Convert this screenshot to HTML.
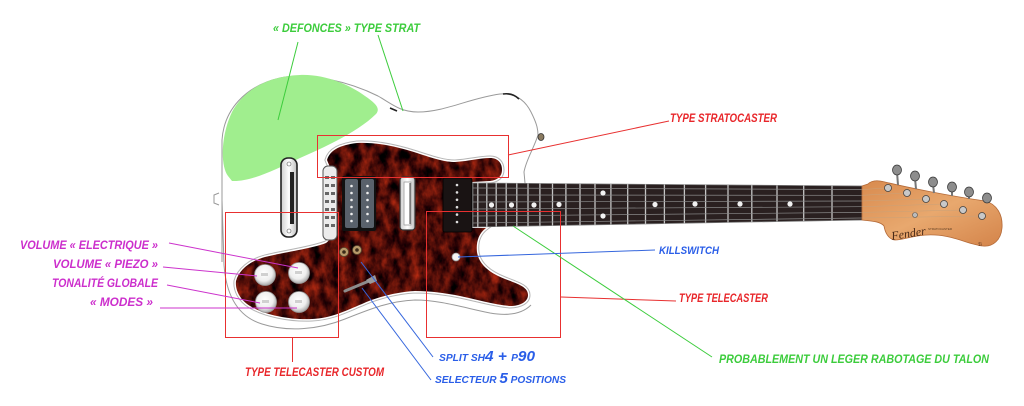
<!DOCTYPE html>
<html><head><meta charset="utf-8"><style>
html,body{margin:0;padding:0;background:#fff;}
svg{display:block;}
text{font-family:"Liberation Sans",sans-serif;font-style:italic;font-weight:bold;}
</style></head><body>
<svg xmlns="http://www.w3.org/2000/svg" width="1024" height="406" viewBox="0 0 1024 406">
<defs>
 <filter id="tort" x="0%" y="0%" width="100%" height="100%" color-interpolation-filters="sRGB">
  <feTurbulence type="fractalNoise" baseFrequency="0.1 0.06" numOctaves="4" seed="7" result="n"/>
  <feColorMatrix in="n" type="matrix" values="1.05 0 0 0 -0.22  0.3 0 0 0 -0.1  0.1 0 0 0 -0.02  0 0 0 0 1" result="c"/>
  <feComposite in="c" in2="SourceGraphic" operator="in"/>
 </filter>
 <clipPath id="fb"><polygon points="473,183 862,186 862,220 473,227"/></clipPath>
 <radialGradient id="knob" cx="45%" cy="40%" r="60%"><stop offset="0" stop-color="#ffffff"/><stop offset="0.65" stop-color="#eeeeee"/><stop offset="1" stop-color="#a8a8a8"/></radialGradient>
 <linearGradient id="maple" x1="0" y1="0" x2="1" y2="1"><stop offset="0" stop-color="#d88a4e"/><stop offset="0.5" stop-color="#e8a86e"/><stop offset="1" stop-color="#d4844a"/></linearGradient>
 <linearGradient id="chrome" x1="0" y1="0" x2="1" y2="0"><stop offset="0" stop-color="#cfcfcf"/><stop offset="0.5" stop-color="#ffffff"/><stop offset="1" stop-color="#bdbdbd"/></linearGradient>
</defs>
<rect width="1024" height="406" fill="#fff"/>

<!-- body outline -->
<g fill="none" stroke="#9a9a9a" stroke-width="1">
 <path d="M222,262 L222,140 C224,110 245,86 280,78 C310,72 350,82 378,96 C392,104 400,112 418,112 C445,112 470,98 500,94 C515,93 525,100 531,112 C536,122 538,128 538,135 C534,148 526,160 524,172 L525,183"/>
 <path d="M222,200 L224,265 C226,292 236,316 262,324 C287,332 318,330 345,319 C370,309 390,301 415,300 C440,300 465,308 490,313 C507,316 522,314 531,305"/>
</g>
<path d="M503,94 C510,93 515,95 519,99" fill="none" stroke="#222" stroke-width="1.6"/>
<path d="M390,108 L397,111" fill="none" stroke="#222" stroke-width="1.6"/>
<ellipse cx="541" cy="137" rx="3" ry="3.5" fill="#8a7a60" stroke="#333" stroke-width="0.8"/>
<path d="M219,193 L214,195 L214,203 L219,205" fill="none" stroke="#999" stroke-width="1"/>

<!-- green blob -->
<path d="M228,176 C220,165 221,135 232,112 C245,88 270,76 300,75 C325,74 350,85 365,96 C375,103 381,108 376,114 C360,130 330,145 300,158 C275,170 250,182 232,181 Z" fill="#a0ee8e"/>

<!-- pickguard -->
<path d="M327,160 C330,150 340,145 357,143 C375,142 395,146 417,153 C435,159 445,162 455,162 C470,161 480,158 490,158 C498,158 502,163 502,170 C502,176 498,180 490,181 L472,182 L472,228 L486,228 C478,234 476,243 477,252 C479,265 490,273 505,279 C518,284 528,287 528,295 C528,302 520,306 510,306 C495,305 475,299 460,296 C445,293 430,291 415,291 C395,292 375,298 362,304 C345,311 332,318 312,319 C290,320 265,315 250,306 C240,300 235,290 236,281 C239,270 250,261 265,257 C285,252 310,249 326,243 C333,238 336,228 336,215 L336,185 C335,175 330,168 327,160 Z" fill="none" stroke="#b5b5b5" stroke-width="5"/>
<path d="M327,160 C330,150 340,145 357,143 C375,142 395,146 417,153 C435,159 445,162 455,162 C470,161 480,158 490,158 C498,158 502,163 502,170 C502,176 498,180 490,181 L472,182 L472,228 L486,228 C478,234 476,243 477,252 C479,265 490,273 505,279 C518,284 528,287 528,295 C528,302 520,306 510,306 C495,305 475,299 460,296 C445,293 430,291 415,291 C395,292 375,298 362,304 C345,311 332,318 312,319 C290,320 265,315 250,306 C240,300 235,290 236,281 C239,270 250,261 265,257 C285,252 310,249 326,243 C333,238 336,228 336,215 L336,185 C335,175 330,168 327,160 Z" fill="none" stroke="#fff" stroke-width="3"/>
<path d="M327,160 C330,150 340,145 357,143 C375,142 395,146 417,153 C435,159 445,162 455,162 C470,161 480,158 490,158 C498,158 502,163 502,170 C502,176 498,180 490,181 L472,182 L472,228 L486,228 C478,234 476,243 477,252 C479,265 490,273 505,279 C518,284 528,287 528,295 C528,302 520,306 510,306 C495,305 475,299 460,296 C445,293 430,291 415,291 C395,292 375,298 362,304 C345,311 332,318 312,319 C290,320 265,315 250,306 C240,300 235,290 236,281 C239,270 250,261 265,257 C285,252 310,249 326,243 C333,238 336,228 336,215 L336,185 C335,175 330,168 327,160 Z" fill="#4a140c" filter="url(#tort)"/>

<!-- tailpiece bar -->
<rect x="281" y="158" width="16" height="79" rx="7" fill="url(#chrome)" stroke="#222" stroke-width="1.6"/>
<rect x="290" y="172" width="4" height="52" fill="#222"/>
<circle cx="289" cy="164" r="2" fill="#fff" stroke="#555" stroke-width="0.6"/>
<circle cx="289" cy="231" r="2" fill="#fff" stroke="#555" stroke-width="0.6"/>

<!-- saddle block -->
<rect x="323" y="166" width="14" height="74" rx="5" fill="#ececec" stroke="#555" stroke-width="1"/>
<g fill="#666">
 <rect x="325" y="176" width="4" height="3"/><rect x="331" y="176" width="4" height="3"/>
 <rect x="325" y="184" width="4" height="3"/><rect x="331" y="184" width="4" height="3"/>
 <rect x="325" y="192" width="4" height="3"/><rect x="331" y="192" width="4" height="3"/>
 <rect x="325" y="200" width="4" height="3"/><rect x="331" y="200" width="4" height="3"/>
 <rect x="325" y="208" width="4" height="3"/><rect x="331" y="208" width="4" height="3"/>
 <rect x="325" y="216" width="4" height="3"/><rect x="331" y="216" width="4" height="3"/>
 <rect x="325" y="224" width="4" height="3"/><rect x="331" y="224" width="4" height="3"/>
</g>

<!-- humbucker -->
<rect x="342" y="176" width="34" height="55" rx="2" fill="#111"/>
<rect x="345" y="179" width="13" height="49" rx="2" fill="#59616b"/>
<rect x="361" y="179" width="13" height="49" rx="2" fill="#59616b"/>
<g fill="#eee">
 <circle cx="351.5" cy="186" r="1.3"/><circle cx="351.5" cy="193" r="1.3"/><circle cx="351.5" cy="200" r="1.3"/><circle cx="351.5" cy="207" r="1.3"/><circle cx="351.5" cy="214" r="1.3"/><circle cx="351.5" cy="221" r="1.3"/>
 <circle cx="367.5" cy="186" r="1.3"/><circle cx="367.5" cy="193" r="1.3"/><circle cx="367.5" cy="200" r="1.3"/><circle cx="367.5" cy="207" r="1.3"/><circle cx="367.5" cy="214" r="1.3"/><circle cx="367.5" cy="221" r="1.3"/>
</g>

<!-- middle chrome pickup -->
<rect x="400" y="177" width="15" height="53" rx="3" fill="url(#chrome)" stroke="#333" stroke-width="1.2"/>
<rect x="404" y="182" width="7" height="43" fill="#fff" stroke="#999" stroke-width="0.8"/>
<line x1="410" y1="183" x2="410" y2="224" stroke="#444" stroke-width="1"/>

<!-- P90 -->
<rect x="443" y="178" width="29" height="54" rx="2" fill="#191313" stroke="#000" stroke-width="0.8"/>
<g fill="#ddd">
 <circle cx="457" cy="185" r="1.3"/><circle cx="457" cy="192.4" r="1.3"/><circle cx="457" cy="199.8" r="1.3"/><circle cx="457" cy="207.2" r="1.3"/><circle cx="457" cy="214.6" r="1.3"/><circle cx="457" cy="222" r="1.3"/>
</g>

<!-- knobs -->
<g stroke="#999" stroke-width="0.8" fill="url(#knob)">
 <circle cx="265" cy="275" r="10.5"/><circle cx="299" cy="273" r="10.5"/>
 <circle cx="266" cy="302" r="10.5"/><circle cx="299" cy="302" r="10.5"/>
</g>
<g fill="#d0d0d0"><rect x="261" y="273" width="7" height="3"/><rect x="295" y="271" width="7" height="3"/><rect x="262" y="300" width="7" height="3"/><rect x="295" y="300" width="7" height="3"/></g>

<!-- mini switches -->
<g fill="#b89a6a" stroke="#5a4a30" stroke-width="0.8">
 <circle cx="344" cy="252" r="4.5"/><circle cx="357" cy="250" r="4.5"/>
</g>
<circle cx="344" cy="252" r="1.8" fill="#3a2a18"/><circle cx="357" cy="250" r="1.8" fill="#3a2a18"/>

<!-- selector -->
<line x1="345" y1="291" x2="369" y2="281" stroke="#8c8c8c" stroke-width="3" stroke-linecap="round"/>
<path d="M366,280 L375,275 L377,281 L370,284 Z" fill="#9a9a9a"/>

<!-- killswitch -->
<circle cx="456" cy="257" r="4" fill="#f4f4f4" stroke="#999" stroke-width="0.8"/>

<!-- fretboard -->
<polygon points="473,183 862,186 862,220 473,227" fill="#2a2020" stroke="#777" stroke-width="0.8"/>
<g clip-path="url(#fb)" stroke="#c4c4c4" stroke-width="1.3">
 <line x1="832" y1="180" x2="832" y2="230"/><line x1="803.7" y1="180" x2="803.7" y2="230"/><line x1="777" y1="180" x2="777" y2="230"/><line x1="751.8" y1="180" x2="751.8" y2="230"/><line x1="728" y1="180" x2="728" y2="230"/><line x1="705.6" y1="180" x2="705.6" y2="230"/><line x1="684.4" y1="180" x2="684.4" y2="230"/><line x1="664.4" y1="180" x2="664.4" y2="230"/><line x1="645.5" y1="180" x2="645.5" y2="230"/><line x1="627.7" y1="180" x2="627.7" y2="230"/><line x1="610.9" y1="180" x2="610.9" y2="230"/><line x1="595" y1="180" x2="595" y2="230"/><line x1="580" y1="180" x2="580" y2="230"/><line x1="565.9" y1="180" x2="565.9" y2="230"/><line x1="552.5" y1="180" x2="552.5" y2="230"/><line x1="539.9" y1="180" x2="539.9" y2="230"/><line x1="528" y1="180" x2="528" y2="230"/><line x1="516.8" y1="180" x2="516.8" y2="230"/><line x1="506.2" y1="180" x2="506.2" y2="230"/><line x1="496.2" y1="180" x2="496.2" y2="230"/><line x1="486.8" y1="180" x2="486.8" y2="230"/><line x1="477.8" y1="180" x2="477.8" y2="230"/>
</g>
<g stroke="#8a8a8a" stroke-width="0.7">
 <line x1="473" y1="188" x2="862" y2="189.5"/><line x1="473" y1="195" x2="862" y2="195.3"/><line x1="473" y1="202" x2="862" y2="201"/><line x1="473" y1="209" x2="862" y2="206.7"/><line x1="473" y1="216" x2="862" y2="212.4"/><line x1="473" y1="223" x2="862" y2="218"/>
</g>
<g fill="#f2f2f2">
 <circle cx="790" cy="204" r="2.6"/><circle cx="740" cy="204" r="2.6"/><circle cx="695" cy="204" r="2.6"/><circle cx="655" cy="204.5" r="2.6"/><circle cx="603" cy="193" r="2.6"/><circle cx="603" cy="216" r="2.6"/><circle cx="559" cy="204.5" r="2.6"/><circle cx="534" cy="205" r="2.6"/><circle cx="511.5" cy="205" r="2.6"/><circle cx="491.5" cy="205" r="2.6"/>
</g>

<!-- headstock -->
<path d="M862,186 L868,184 C872,180 878,180 885,182 C910,188 950,196 985,201 C997,204 1003,215 1002,228 C1001,240 993,247 983,246 C970,245 955,236 935,235 C915,234 905,240 895,240 C888,239 885,232 884,226 C880,221 870,221 862,220 Z" fill="url(#maple)" stroke="#b46a38" stroke-width="0.8"/>
<g stroke="#777" stroke-width="2">
 <line x1="897" y1="172" x2="898" y2="185"/><line x1="915" y1="178" x2="916" y2="189"/><line x1="933" y1="184" x2="934" y2="193"/><line x1="952" y1="189" x2="952" y2="196"/><line x1="969" y1="194" x2="969" y2="199"/><line x1="987" y1="200" x2="987" y2="203"/>
</g>
<g fill="#8d8d8d" stroke="#3a3a3a" stroke-width="0.8">
 <ellipse cx="897" cy="170" rx="4.5" ry="5"/><ellipse cx="915" cy="176" rx="4.5" ry="5"/><ellipse cx="933" cy="182" rx="4.5" ry="5"/><ellipse cx="952" cy="187" rx="4.5" ry="5"/><ellipse cx="969" cy="192" rx="4.5" ry="5"/><ellipse cx="987" cy="198" rx="4.5" ry="5"/>
</g>
<g stroke="#c9a27a" stroke-width="0.5">
 <line x1="862" y1="189.5" x2="888" y2="188"/><line x1="862" y1="195.3" x2="907" y2="193"/><line x1="862" y1="201" x2="926" y2="199"/><line x1="862" y1="206.7" x2="944" y2="204"/><line x1="862" y1="212.4" x2="963" y2="210"/><line x1="862" y1="218" x2="982" y2="216"/>
</g>
<g fill="#c8c8c8" stroke="#444" stroke-width="0.8">
 <circle cx="888" cy="188" r="3.5"/><circle cx="907" cy="193" r="3.5"/><circle cx="926" cy="199" r="3.5"/><circle cx="944" cy="204" r="3.5"/><circle cx="963" cy="210" r="3.5"/><circle cx="982" cy="216" r="3.5"/>
</g>
<circle cx="915" cy="215" r="2.5" fill="#bbb" stroke="#555" stroke-width="0.6"/>
<text x="892" y="240" transform="rotate(-9 892 240)" font-size="12" fill="#4a2a18" style="font-family:'Liberation Serif',serif;font-weight:normal">Fender</text>
<text x="928" y="230" font-size="3" fill="#5a3a20" style="font-style:normal;font-weight:normal">STRATOCASTER</text>
<text x="978" y="246" font-size="5" fill="#4a2a18" style="font-style:normal;font-weight:normal">ℬ</text>

<!-- red boxes -->
<g fill="none" stroke="#e83030" stroke-width="1">
 <rect x="317.5" y="135.5" width="191" height="42"/>
 <rect x="225.5" y="212.5" width="113" height="125"/>
 <rect x="426.5" y="211.5" width="134" height="126"/>
 <line x1="508" y1="155" x2="669" y2="121"/>
 <line x1="292.5" y1="338" x2="292.5" y2="362"/>
 <line x1="561" y1="297" x2="676" y2="301"/>
</g>

<!-- green lines -->
<g stroke="#3ccc3c" stroke-width="1">
 <line x1="298" y1="42" x2="278" y2="120"/>
 <line x1="378" y1="35" x2="403" y2="111"/>
 <line x1="513" y1="226" x2="712" y2="357"/>
</g>
<!-- blue lines -->
<g stroke="#3566dd" stroke-width="1">
 <line x1="458" y1="257" x2="655" y2="250"/>
 <line x1="361" y1="262" x2="433" y2="357"/>
 <line x1="362" y1="288" x2="431" y2="380"/>
</g>
<!-- magenta lines -->
<g stroke="#cc33cc" stroke-width="1">
 <line x1="169" y1="243" x2="298" y2="268"/>
 <line x1="163" y1="267" x2="257" y2="276"/>
 <line x1="167" y1="285" x2="260" y2="303"/>
 <line x1="160" y1="308" x2="297" y2="308"/>
</g>

<!-- labels -->
<text x="273" y="32" font-size="12" fill="#3ccc3c" textLength="147" lengthAdjust="spacingAndGlyphs">« DEFONCES » TYPE STRAT</text>
<text x="670" y="122" font-size="12" fill="#e8262a" textLength="107" lengthAdjust="spacingAndGlyphs">TYPE STRATOCASTER</text>
<text x="659" y="254" font-size="11" fill="#2a5ee8" textLength="60" lengthAdjust="spacingAndGlyphs">KILLSWITCH</text>
<text x="679" y="302" font-size="12" fill="#e8262a" textLength="89" lengthAdjust="spacingAndGlyphs">TYPE TELECASTER</text>
<text x="719" y="363" font-size="12" fill="#3ccc3c" textLength="270" lengthAdjust="spacingAndGlyphs">PROBABLEMENT UN LEGER RABOTAGE DU TALON</text>
<text x="245" y="376" font-size="12" fill="#e8262a" textLength="139" lengthAdjust="spacingAndGlyphs">TYPE TELECASTER CUSTOM</text>
<text x="439" y="361" fill="#2a5ee8" textLength="96" lengthAdjust="spacingAndGlyphs"><tspan font-size="10">SPLIT SH</tspan><tspan font-size="15">4 + </tspan><tspan font-size="10">P</tspan><tspan font-size="15">90</tspan></text>
<text x="435" y="383" fill="#2a5ee8" textLength="131" lengthAdjust="spacingAndGlyphs"><tspan font-size="10">SELECTEUR </tspan><tspan font-size="15">5</tspan><tspan font-size="10"> POSITIONS</tspan></text>
<text x="20" y="249" font-size="12" fill="#cc2ecc" textLength="138" lengthAdjust="spacingAndGlyphs">VOLUME « ELECTRIQUE »</text>
<text x="53" y="268" font-size="12" fill="#cc2ecc" textLength="105" lengthAdjust="spacingAndGlyphs">VOLUME « PIEZO »</text>
<text x="52" y="287" font-size="12" fill="#cc2ecc" textLength="106" lengthAdjust="spacingAndGlyphs">TONALITÉ GLOBALE</text>
<text x="90" y="306" font-size="12" fill="#cc2ecc" textLength="63" lengthAdjust="spacingAndGlyphs">« MODES »</text>
</svg>
</body></html>
